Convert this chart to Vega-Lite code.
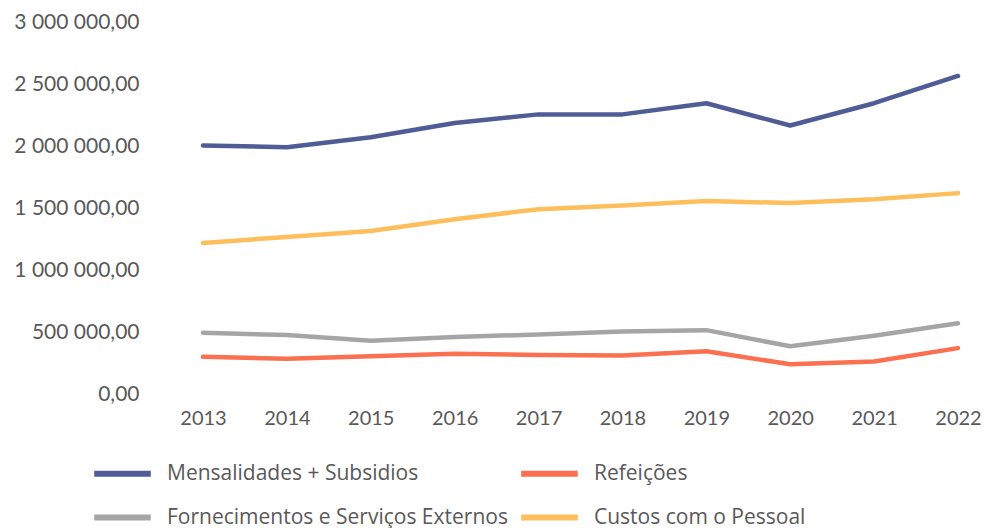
{
  "$schema": "https://vega.github.io/schema/vega-lite/v6.json",
  "autosize": {"type": "none"},
  "padding": {"left": 203, "top": 22, "right": 31, "bottom": 134},
  "width": 755,
  "height": 372,
  "background": "white",
  "config": {
    "locale": {"number": {"decimal": ",", "thousands": " ", "grouping": [3], "currency": ["", ""]}},
    "view": {"stroke": null},
    "font": "Lato"
  },
  "data": {
    "values": [
      {"ano": "2013", "serie": "Mensalidades + Subsidios", "valor": 2005000},
      {"ano": "2014", "serie": "Mensalidades + Subsidios", "valor": 1990000},
      {"ano": "2015", "serie": "Mensalidades + Subsidios", "valor": 2070000},
      {"ano": "2016", "serie": "Mensalidades + Subsidios", "valor": 2185000},
      {"ano": "2017", "serie": "Mensalidades + Subsidios", "valor": 2255000},
      {"ano": "2018", "serie": "Mensalidades + Subsidios", "valor": 2255000},
      {"ano": "2019", "serie": "Mensalidades + Subsidios", "valor": 2345000},
      {"ano": "2020", "serie": "Mensalidades + Subsidios", "valor": 2165000},
      {"ano": "2021", "serie": "Mensalidades + Subsidios", "valor": 2345000},
      {"ano": "2022", "serie": "Mensalidades + Subsidios", "valor": 2565000},
      {"ano": "2013", "serie": "Refeições", "valor": 300000},
      {"ano": "2014", "serie": "Refeições", "valor": 285000},
      {"ano": "2015", "serie": "Refeições", "valor": 305000},
      {"ano": "2016", "serie": "Refeições", "valor": 325000},
      {"ano": "2017", "serie": "Refeições", "valor": 315000},
      {"ano": "2018", "serie": "Refeições", "valor": 310000},
      {"ano": "2019", "serie": "Refeições", "valor": 345000},
      {"ano": "2020", "serie": "Refeições", "valor": 240000},
      {"ano": "2021", "serie": "Refeições", "valor": 262000},
      {"ano": "2022", "serie": "Refeições", "valor": 370000},
      {"ano": "2013", "serie": "Fornecimentos e Serviços Externos", "valor": 494000},
      {"ano": "2014", "serie": "Fornecimentos e Serviços Externos", "valor": 475000},
      {"ano": "2015", "serie": "Fornecimentos e Serviços Externos", "valor": 430000},
      {"ano": "2016", "serie": "Fornecimentos e Serviços Externos", "valor": 460000},
      {"ano": "2017", "serie": "Fornecimentos e Serviços Externos", "valor": 480000},
      {"ano": "2018", "serie": "Fornecimentos e Serviços Externos", "valor": 505000},
      {"ano": "2019", "serie": "Fornecimentos e Serviços Externos", "valor": 515000},
      {"ano": "2020", "serie": "Fornecimentos e Serviços Externos", "valor": 385000},
      {"ano": "2021", "serie": "Fornecimentos e Serviços Externos", "valor": 470000},
      {"ano": "2022", "serie": "Fornecimentos e Serviços Externos", "valor": 570000},
      {"ano": "2013", "serie": "Custos com o Pessoal", "valor": 1218000},
      {"ano": "2014", "serie": "Custos com o Pessoal", "valor": 1266000},
      {"ano": "2015", "serie": "Custos com o Pessoal", "valor": 1315000},
      {"ano": "2016", "serie": "Custos com o Pessoal", "valor": 1410000},
      {"ano": "2017", "serie": "Custos com o Pessoal", "valor": 1490000},
      {"ano": "2018", "serie": "Custos com o Pessoal", "valor": 1520000},
      {"ano": "2019", "serie": "Custos com o Pessoal", "valor": 1556000},
      {"ano": "2020", "serie": "Custos com o Pessoal", "valor": 1540000},
      {"ano": "2021", "serie": "Custos com o Pessoal", "valor": 1570000},
      {"ano": "2022", "serie": "Custos com o Pessoal", "valor": 1620000}
    ]
  },
  "mark": {"type": "line", "interpolate": "linear", "strokeWidth": 4.5, "strokeCap": "round", "strokeJoin": "round"},
  "encoding": {
    "x": {
      "field": "ano", "type": "ordinal",
      "scale": {"type": "point", "padding": 0},
      "axis": {"title": null, "domain": false, "ticks": false, "tickSize": 0, "grid": false, "labelAngle": 0, "labelFontSize": 20, "labelColor": "#595959", "labelPadding": 14, "labelFont": "Lato"}
    },
    "y": {
      "field": "valor", "type": "quantitative",
      "scale": {"domain": [0, 3000000], "nice": false},
      "axis": {"title": null, "domain": false, "ticks": false, "tickSize": 0, "grid": false, "values": [0, 500000, 1000000, 1500000, 2000000, 2500000, 3000000], "format": ",.2f", "labelFontSize": 21, "labelColor": "#595959", "labelPadding": 64, "labelFont": "Lato"}
    },
    "color": {
      "field": "serie", "type": "nominal",
      "scale": {
        "domain": ["Mensalidades + Subsidios", "Fornecimentos e Serviços Externos", "Refeições", "Custos com o Pessoal"],
        "range": ["#505C96", "#A5A5A5", "#FA7050", "#FFBE5C"]
      },
      "legend": {
        "title": null,
        "orient": "none",
        "legendX": -112,
        "legendY": 420,
        "columns": 2,
        "symbolType": "stroke",
        "symbolSize": 3200,
        "symbolStrokeWidth": 6,
        "rowPadding": -14,
        "columnPadding": 1,
        "labelOffset": 13,
        "labelFontSize": 21,
        "labelColor": "#595959",
        "labelFont": "Open Sans",
        "labelLimit": 400
      }
    }
  }
}
